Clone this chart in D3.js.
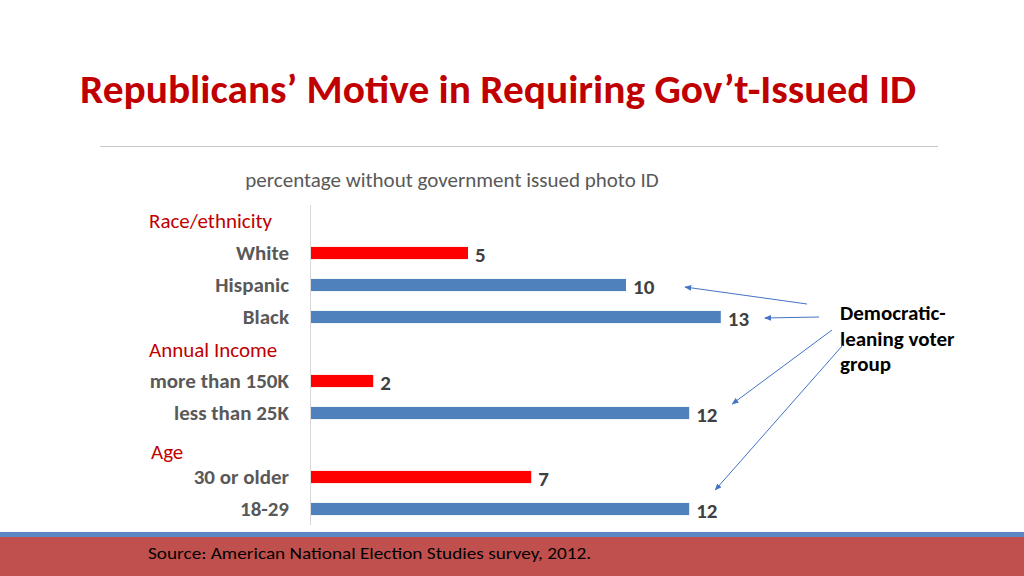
<!DOCTYPE html>
<html>
<head>
<meta charset="utf-8">
<script src="https://cdn.jsdelivr.net/npm/d3@7"></script>
<style>
  body { margin: 0; background: #fff; }
  svg { display: block; font-family: Carlito, Calibri, Lato, sans-serif; }
</style>
</head>
<body>
<div id="canvas"></div>
<script>
const groups = ["Race/ethnicity", "Annual Income", "Age"];
const categories = ["White", "Hispanic", "Black", "more than 150K", "less than 25K", "30 or older", "18-29"];
const values = [5, 10, 13, 2, 12, 7, 12];
const groupOf = [0, 0, 0, 1, 1, 2, 2];
const democraticLeaning = [false, true, true, false, true, false, true];
const annotationText = ["Democratic-", "leaning voter", "group"];
const pointedAt = ["Hispanic", "Black", "less than 25K", "18-29"];

const width = 1024, height = 576;
const margin = { top: 205, left: 310, bottom: 51, right: 10 };

const svg = d3.select("#canvas").append("svg")
  .attr("width", width)
  .attr("height", height);

// title and rule
svg.append("text")
  .attr("x", 80).attr("y", 103)
  .attr("font-size", 40).attr("font-weight", "bold")
  .attr("fill", "#C00000")
  .attr("textLength", 836).attr("lengthAdjust", "spacingAndGlyphs")
  .text("Republicans\u2019 Motive in Requiring Gov\u2019t-Issued ID");

svg.append("line")
  .attr("x1", 100).attr("x2", 938)
  .attr("y1", 146.5).attr("y2", 146.5)
  .attr("stroke", "#c8c8c8").attr("stroke-width", 1);

svg.append("text")
  .attr("x", 452).attr("y", 187)
  .attr("text-anchor", "middle")
  .attr("font-size", 21).attr("fill", "#595959")
  .text("percentage without government issued photo ID");

// rows: a header slot for each group, then its categories
const rows = [];
groups.forEach((g, gi) => {
  rows.push("#" + g);
  categories.forEach((c, i) => { if (groupOf[i] === gi) rows.push(c); });
});

const x = d3.scaleLinear().domain([0, 1]).range([0, 31.6]);

const y = d3.scaleBand()
  .domain(rows)
  .range([margin.top, height - margin.bottom])
  .paddingInner(0.62)
  .paddingOuter(0.31);

const g = svg.append("g").attr("transform", `translate(${margin.left},0)`);

const data = categories.map((c, i) => ({ name: c, value: values[i], dem: democraticLeaning[i] }));

g.selectAll("rect.bar").data(data).enter().append("rect")
  .attr("class", "bar")
  .attr("x", 0)
  .attr("y", d => y(d.name))
  .attr("width", d => x(d.value))
  .attr("height", y.bandwidth())
  .attr("fill", d => d.dem ? "#4F81BD" : "#FF0000");

g.selectAll("text.val").data(data).enter().append("text")
  .attr("class", "val")
  .attr("x", d => x(d.value) + 7)
  .attr("y", d => y(d.name) + y.bandwidth() / 2 + 9)
  .attr("font-size", 21).attr("font-weight", "bold")
  .attr("fill", "#404040")
  .text(d => d.value);

// axis
const axis = g.append("g")
  .call(d3.axisLeft(y)
    .tickSize(0).tickSizeOuter(0).tickPadding(21)
    .tickFormat(d => d.startsWith("#") ? "" : d));
axis.selectAll(".tick text")
  .attr("font-family", "Carlito, Calibri, Lato, sans-serif")
  .attr("font-size", 21).attr("font-weight", "bold")
  .attr("fill", "#595959");

// the domain path spans outer padding; stretch it to the full range
axis.select(".domain")
  .attr("stroke", "#d9d9d9")
  .attr("d", `M0.5,${margin.top}V${height - margin.bottom}`);

// group headers
const headerDx = [149, 149, 151];
const headerDy = [0, 1, 7];
groups.forEach((gname, gi) => {
  svg.append("text")
    .attr("x", headerDx[gi])
    .attr("y", y("#" + gname) + y.bandwidth() / 2 + 7 + headerDy[gi])
    .attr("font-size", 21)
    .attr("fill", "#C00000")
    .text(gname);
});

// annotation
const note = svg.append("text")
  .attr("x", 840).attr("y", 320)
  .attr("font-size", 21).attr("font-weight", "bold")
  .attr("fill", "#000");
annotationText.forEach((t, i) => {
  note.append("tspan").attr("x", 840).attr("dy", i ? 25.5 : 0).text(t);
});

svg.append("defs").append("marker")
  .attr("id", "arrow")
  .attr("viewBox", "0 0 10 10")
  .attr("refX", 9).attr("refY", 5)
  .attr("markerWidth", 7).attr("markerHeight", 7)
  .attr("orient", "auto-start-reverse")
  .append("path")
  .attr("d", "M0,1L10,5L0,9z")
  .attr("fill", "#4472C4");

const arrowStart = [[807, 304], [819, 317], [832, 330], [843, 345]];
const arrowOffset = [[59, 2], [44, 1], [43, -9], [26, -19]];
pointedAt.forEach((name, i) => {
  const idx = categories.indexOf(name);
  const ex = margin.left + x(values[idx]) + arrowOffset[i][0];
  const ey = y(name) + y.bandwidth() / 2 + arrowOffset[i][1];
  svg.append("line")
    .attr("x1", arrowStart[i][0]).attr("y1", arrowStart[i][1])
    .attr("x2", ex).attr("y2", ey)
    .attr("stroke", "#4472C4").attr("stroke-width", 1)
    .attr("marker-end", "url(#arrow)");
});

// footer band
svg.append("rect")
  .attr("x", 0).attr("y", 532).attr("width", width).attr("height", 5)
  .attr("fill", "#5B87C5");
svg.append("rect")
  .attr("x", 0).attr("y", 537).attr("width", width).attr("height", 39)
  .attr("fill", "#C0504D");
svg.append("text")
  .attr("x", 148).attr("y", 559)
  .attr("font-size", 17).attr("fill", "#000")
  .attr("textLength", 443).attr("lengthAdjust", "spacingAndGlyphs")
  .text("Source: American National Election Studies survey, 2012.");
</script>
</body>
</html>
